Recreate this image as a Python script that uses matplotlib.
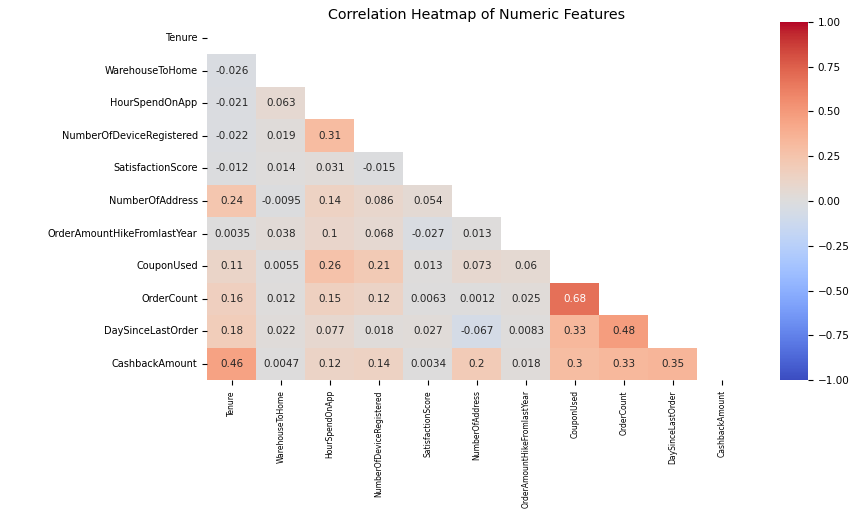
import matplotlib
matplotlib.use("Agg")
import matplotlib.pyplot as plt
import numpy as np
import seaborn as sns

# feature names, same order on both axes
features = ["Tenure", "WarehouseToHome", "HourSpendOnApp", "NumberOfDeviceRegistered",
            "SatisfactionScore", "NumberOfAddress", "OrderAmountHikeFromlastYear",
            "CouponUsed", "OrderCount", "DaySinceLastOrder", "CashbackAmount"]

# lower triangle of the correlation matrix, row by row (below the diagonal)
lowerRows = [
    [],
    [-0.026],
    [-0.021, 0.063],
    [-0.022, 0.019, 0.31],
    [-0.012, 0.014, 0.031, -0.015],
    [0.24, -0.0095, 0.14, 0.086, 0.054],
    [0.0035, 0.038, 0.1, 0.068, -0.027, 0.013],
    [0.11, 0.0055, 0.26, 0.21, 0.013, 0.073, 0.06],
    [0.16, 0.012, 0.15, 0.12, 0.0063, 0.0012, 0.025, 0.68],
    [0.18, 0.022, 0.077, 0.018, 0.027, -0.067, 0.0083, 0.33, 0.48],
    [0.46, 0.0047, 0.12, 0.14, 0.0034, 0.2, 0.018, 0.3, 0.33, 0.35],
]

n = len(features)
corr = np.eye(n)
for i, row in enumerate(lowerRows):
    for j, v in enumerate(row):
        corr[i, j] = v
        corr[j, i] = v

mask = np.triu(np.ones_like(corr, dtype=bool))

fig = plt.figure(figsize=(8.52, 5.14), dpi=100)
ax = fig.add_axes([0.2435, 0.2601, 0.6326, 0.6977])
cax = fig.add_axes([0.9155, 0.2601, 0.0329, 0.6977])

sns.heatmap(corr, mask=mask, annot=True, cmap="coolwarm", vmin=-1, vmax=1,
            xticklabels=features, yticklabels=features, ax=ax, cbar_ax=cax,
            annot_kws={"size": 7.5})

ax.set_title("Correlation Heatmap of Numeric Features", fontsize=10.3, pad=1.5)
ax.tick_params(axis="y", labelsize=7)
ax.tick_params(axis="x", labelsize=5.5)
plt.setp(ax.get_xticklabels(), rotation=90)
plt.setp(ax.get_yticklabels(), rotation=0)
cax.tick_params(labelsize=7.5)

fig.savefig("out.png", dpi=100)
